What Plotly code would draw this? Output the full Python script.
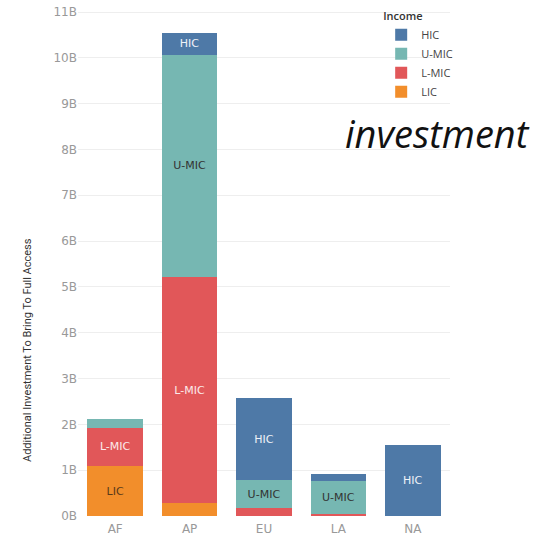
import plotly.graph_objects as go

regions = ["AF", "AP", "EU", "LA", "NA"]
lic = [1.09, 0.28, 0.0, 0.01, 0.0]
lmic = [0.84, 4.94, 0.17, 0.04, 0.0]
umic = [0.18, 4.85, 0.61, 0.71, 0.0]
hic = [0.0, 0.47, 1.79, 0.15, 1.54]

lic_text = ["LIC", "", "", "", ""]
lmic_text = ["L-MIC", "L-MIC", "", "", ""]
umic_text = ["", "U-MIC", "U-MIC", "U-MIC", ""]
hic_text = ["", "HIC", "HIC", "", "HIC"]

tick_vals = list(range(0, 12))
tick_text = [f"{v}B" for v in tick_vals]

B = 1e9
series = [
    ("LIC", lic, lic_text, "#F28E2B", "#5a3a1a"),
    ("L-MIC", lmic, lmic_text, "#E15759", "#fbeaea"),
    ("U-MIC", umic, umic_text, "#76B7B2", "#333333"),
    ("HIC", hic, hic_text, "#4E79A7", "#eef2f8"),
]

fig = go.Figure()
for name, vals, txt, col, tcol in series:
    fig.add_trace(go.Bar(
        x=regions, y=[v * B for v in vals], name=name,
        marker=dict(color=col, line=dict(width=0)),
        text=txt, textposition="inside", insidetextanchor="middle",
        textangle=0,
        textfont=dict(size=11, color=tcol, family="DejaVu Sans"),
        hoverinfo="skip",
    ))

fig.update_layout(
    barmode="stack",
    bargap=0.253,
    width=554, height=537,
    margin=dict(l=78, r=104, t=6, b=21),
    paper_bgcolor="white", plot_bgcolor="white",
    showlegend=True,
    legend=dict(
        title=dict(text="Income", font=dict(size=11, color="#333333", family="Open Sans", weight=600)),
        traceorder="reversed",
        x=0.815, xanchor="left", y=1.01, yanchor="top",
        font=dict(size=11, color="#444444", family="Open Sans"),
        bgcolor="rgba(255,255,255,0)",
        tracegroupgap=0,
    ),
    uniformtext=dict(minsize=8, mode="show"),
)
fig.update_xaxes(
    showgrid=False, showline=False, ticks="", automargin=False,
    ticklabelstandoff=4,
    tickfont=dict(size=12, color="#999999", family="DejaVu Sans"),
)
fig.update_yaxes(
    range=[0, 11.022 * B], automargin=False,
    tickvals=[v * B for v in tick_vals], ticktext=tick_text,
    showgrid=True, gridcolor="#eeeeee", gridwidth=1,
    zeroline=False, showline=False, ticks="",
    tickfont=dict(size=12, color="#999999", family="DejaVu Sans"),
)
fig.add_annotation(
    text="Additional Investment To Bring To Full Access",
    xref="paper", yref="paper", x=-0.134, y=0.329,
    xanchor="center", yanchor="middle",
    textangle=-90, showarrow=False,
    font=dict(size=11, color="#333333", family="Roboto"),
)
fig.add_annotation(
    text="<i>investment</i>",
    xref="paper", yref="paper", x=0.966, y=0.703,
    xanchor="center", yanchor="bottom",
    showarrow=False,
    font=dict(size=38, color="#111111", family="Open Sans"),
)

fig.write_html(
    "out.html",
    config={"displayModeBar": False},
    post_script="document.body.style.margin='0px';",
)
